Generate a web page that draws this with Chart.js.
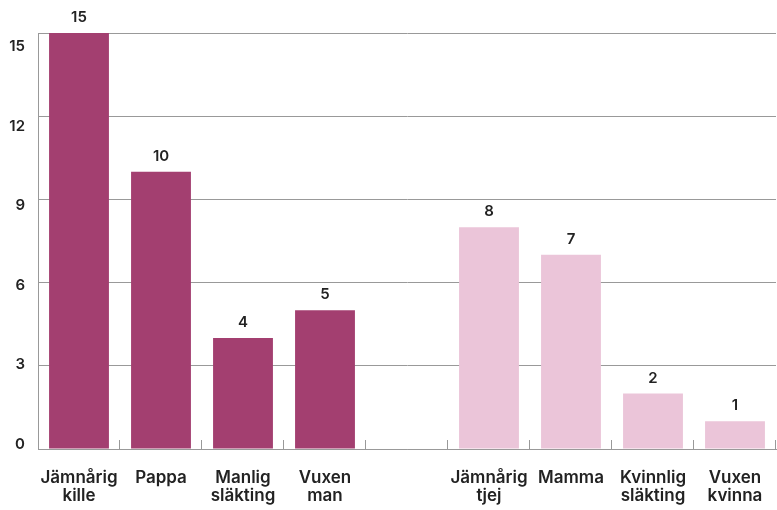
<!DOCTYPE html>
<html><head><meta charset="utf-8">
<script src="https://cdn.jsdelivr.net/npm/chart.js@4"></script>
<style>html,body{margin:0;padding:0;background:#fff}#wrap{width:777px;height:510px}</style>
</head><body><div id="wrap"><canvas id="c" width="777" height="510"></canvas></div>
<script>
const categories = [["Jämnårig","kille"],"Pappa",["Manlig","släkting"],["Vuxen","man"],"",["Jämnårig","tjej"],"Mamma",["Kvinnlig","släkting"],["Vuxen","kvinna"]];
const values = [15,10,4,5,null,8,7,2,1];
const colors = ["#A33F70","#A33F70","#A33F70","#A33F70","#A33F70","#EBC5D9","#EBC5D9","#EBC5D9","#EBC5D9"];
const yTicks = [0,3,6,9,12,15];

const FONT = "Inter, 'Noto Sans', sans-serif";
const TXT = "#222";
const GRID = "#999";

const overlay = {
  id:'overlay',
  afterDatasetsDraw(chart){
    const ctx = chart.ctx;
    const meta = chart.getDatasetMeta(0);
    ctx.save();
    ctx.font = "600 15px " + FONT;
    ctx.fillStyle = TXT;
    ctx.textAlign = 'center';
    ctx.textBaseline = 'bottom';
    meta.data.forEach((bar,i)=>{
      if (values[i]==null) return;
      ctx.fillText(String(values[i]), bar.x, bar.y - 8);
    });
    const xs = chart.scales.x;
    const base = chart.scales.y.getPixelForValue(0);
    ctx.strokeStyle = GRID;
    ctx.lineWidth = 1;
    for (let i=0;i<categories.length;i++){
      const a = xs.getPixelForValue(i), b = i+1<categories.length ? xs.getPixelForValue(i+1) : a + (a - xs.getPixelForValue(i-1));
      const px = Math.round((a+b)/2) - 0.5;
      ctx.beginPath();
      ctx.moveTo(px, base);
      ctx.lineTo(px, base - 9);
      ctx.stroke();
    }
    ctx.restore();
  }
};

new Chart(document.getElementById('c'), {
  type:'bar',
  data:{labels:categories, datasets:[{data:values, backgroundColor:colors, borderWidth:0, categoryPercentage:1, barPercentage:0.73, yAxisID:'y'}]},
  options:{
    responsive:false, animation:false,
    layout:{padding:{left:8,top:33,right:1,bottom:0}},
    plugins:{legend:{display:false},tooltip:{enabled:false}},
    scales:{
      x:{
        grid:{display:false,drawTicks:false},
        border:{display:true,color:GRID,width:1},
        ticks:{color:TXT,font:{family:FONT,size:17,weight:'600',lineHeight:'18px'},padding:20,maxRotation:0,autoSkip:false},
        afterFit(s){ s.height = 61; s.paddingLeft = 0; s.paddingRight = 0; }
      },
      y:{
        position:'left', weight:0,
        min:0,max:15,
        afterBuildTicks(s){ s.ticks = yTicks.map(v=>({value:v})); },
        grid:{color:GRID,lineWidth:1,drawTicks:false},
        border:{display:true,color:GRID,width:1},
        ticks:{display:false},
        afterFit(s){ s.width = 0; s.paddingTop = 0; s.paddingBottom = 0; }
      },
      yl:{
        position:'left', weight:1,
        min:-0.189,max:15.516,
        afterBuildTicks(s){ s.ticks = yTicks.map(v=>({value:v})); },
        grid:{display:false,drawTicks:false},
        border:{display:false},
        ticks:{color:TXT,font:{family:FONT,size:15,weight:'600'},crossAlign:'near',padding:13},
        afterFit(s){ s.width = 30; s.paddingTop = 0; s.paddingBottom = 0; }
      }
    }
  },
  plugins:[overlay]
});
</script></body></html>
